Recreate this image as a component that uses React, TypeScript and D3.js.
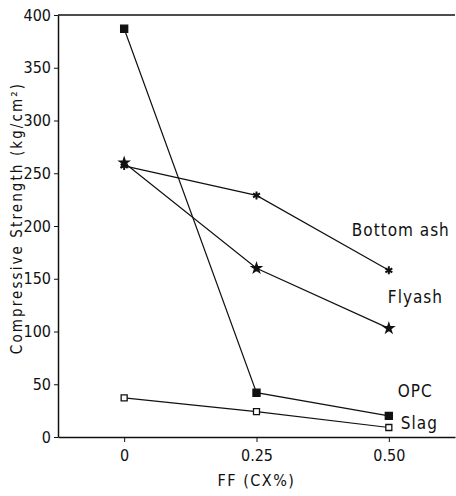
import React, { useEffect, useRef } from 'react';
import * as d3 from 'd3';

// FF content (CX%)
const ffLevels = [0, 0.25, 0.5];
const xTickLabels = ['0', '0.25', '0.50'];
const yTicks = [0, 50, 100, 150, 200, 250, 300, 350, 400];

const seriesNames = ['OPC', 'Bottom ash', 'Flyash', 'Slag'];
const opcValues = [387, 42, 20];
const bottomAshValues = [257, 229, 158];
const flyashValues = [260, 160, 103];
const slagValues = [37, 24, 9];

const App = () => {
  const svgRef = useRef<SVGSVGElement>(null);

  useEffect(() => {
    const W = 456;
    const H = 496;
    const margin = { top: 15, right: 1, bottom: 59, left: 58 };
    const width = W - margin.left - margin.right;
    const height = H - margin.top - margin.bottom;

    d3.select(svgRef.current).selectAll('*').remove();

    const root = d3.select(svgRef.current)
      .attr('width', W)
      .attr('height', H);

    const svg = root.append('g')
      .attr('transform', `translate(${margin.left},${margin.top})`);

    const font = '"DejaVu Sans Condensed", "Liberation Sans Narrow", sans-serif';

    const x = d3.scaleLinear().domain([-0.125, 0.625]).range([0, width]);
    const y = d3.scaleLinear().domain([0, 400]).range([height, 0]);

    // frame: top line, left axis, bottom axis
    svg.append('line')
      .attr('x1', 0).attr('x2', width).attr('y1', 0).attr('y2', 0)
      .attr('stroke', '#111').attr('stroke-width', 1.3);

    const yAxis = svg.append('g')
      .call(d3.axisLeft(y).tickValues(yTicks).tickSize(4).tickSizeOuter(0).tickPadding(3));
    yAxis.select('.domain').attr('stroke', '#111').attr('stroke-width', 1.5);
    yAxis.selectAll('line').attr('stroke', '#111');
    yAxis.selectAll('text')
      .style('font-family', font)
      .style('font-size', '16px')
      .style('fill', '#111');

    const xAxis = svg.append('g')
      .attr('transform', `translate(0,${height})`)
      .call(d3.axisBottom(x).tickValues(ffLevels)
        .tickFormat((d, i) => xTickLabels[i])
        .tickSize(5).tickSizeOuter(0).tickPadding(8));
    xAxis.select('.domain').attr('stroke', '#111').attr('stroke-width', 1.3);
    xAxis.selectAll('line').attr('stroke', '#111');
    xAxis.selectAll('text')
      .style('font-family', font)
      .style('font-size', '16px')
      .style('fill', '#111');

    // axis titles
    root.append('text')
      .attr('transform', `translate(22,${margin.top + height / 2 - 8}) rotate(-90)`)
      .attr('text-anchor', 'middle')
      .style('font-family', font)
      .style('font-size', '15px')
      .style('letter-spacing', '2.1px')
      .style('fill', '#111')
      .text('Compressive Strength (kg/cm²)');

    root.append('text')
      .attr('x', margin.left + x(0.25))
      .attr('y', 486)
      .attr('text-anchor', 'middle')
      .style('font-family', font)
      .style('font-size', '16px')
      .style('letter-spacing', '1.5px')
      .style('fill', '#111')
      .text('FF (CX%)');

    const series = [
      { name: seriesNames[0], values: opcValues, symbol: d3.symbolSquare, size: 50, fill: '#111', sw: 1.3, dx: 9, dy: -24 },
      { name: seriesNames[1], values: bottomAshValues, symbol: d3.symbolAsterisk, size: 45, fill: 'none', sw: 2, dx: -37, dy: -39 },
      { name: seriesNames[2], values: flyashValues, symbol: d3.symbolStar, size: 26, fill: '#111', sw: 1.5, dx: -1, dy: -30 },
      { name: seriesNames[3], values: slagValues, symbol: d3.symbolSquare, size: 36, fill: '#fff', sw: 1.3, dx: 12, dy: -4 },
    ];

    const line = d3.line<number>()
      .x((d, i) => x(ffLevels[i]))
      .y(d => y(d));

    series.forEach(s => {
      svg.append('path')
        .datum(s.values)
        .attr('d', line)
        .attr('fill', 'none')
        .attr('stroke', '#111')
        .attr('stroke-width', 1.2);

      svg.selectAll(null)
        .data(s.values)
        .enter()
        .append('path')
        .attr('transform', (d, i) => `translate(${x(ffLevels[i])},${y(d)})`)
        .attr('d', d3.symbol().type(s.symbol).size(s.size))
        .attr('fill', s.fill)
        .attr('stroke', '#111')
        .attr('stroke-width', s.sw);

      const last = s.values[s.values.length - 1];
      svg.append('text')
        .attr('x', x(ffLevels[ffLevels.length - 1]) + s.dx)
        .attr('y', y(last) + s.dy)
        .attr('dominant-baseline', 'middle')
        .style('font-family', font)
        .style('font-size', '17px')
        .style('letter-spacing', '1px')
        .style('fill', '#111')
        .text(s.name);
    });
  }, []);

  return (
    <svg ref={svgRef} style={{ position: 'absolute', left: 0, top: 0 }}></svg>
  );
};

export default App;
